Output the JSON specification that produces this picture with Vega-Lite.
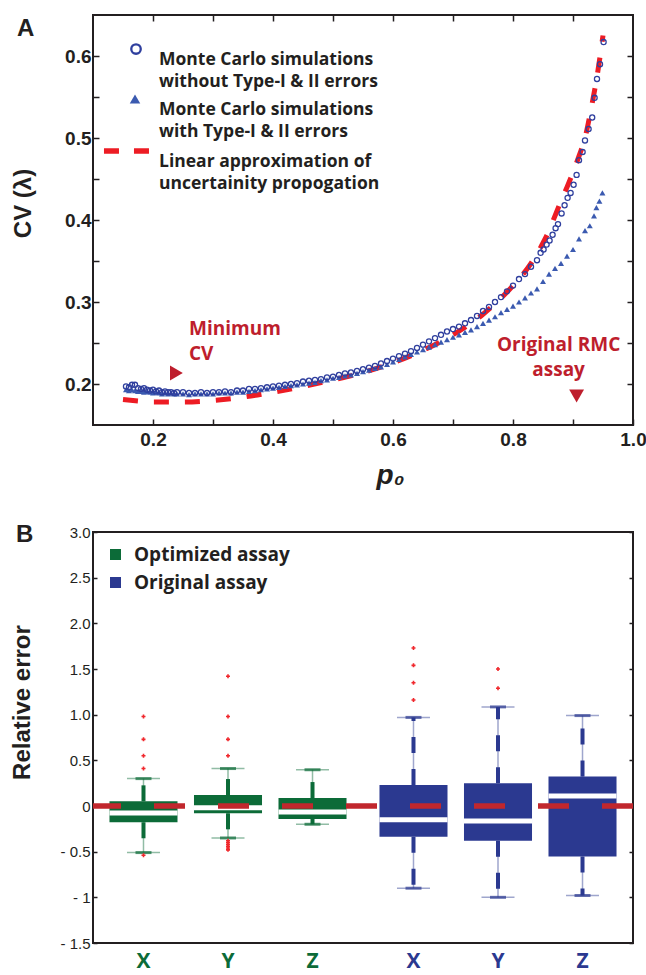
{
  "$schema": "https://vega.github.io/schema/vega-lite/v6.json",
  "padding": {"left": 9, "top": 13, "right": 5, "bottom": 0},
  "spacing": 32,
  "resolve": {"legend": {"color": "independent"}, "scale": {"color": "independent"}},
  "config": {
    "view": {"stroke": "#231f20", "strokeWidth": 2},
    "axis": {"grid": false, "domain": false, "tickColor": "#231f20", "labelColor": "#231f20", "titleColor": "#231f20", "labelFlush": false, "labelOverlap": false, "labelBound": false}
  },
  "datasets": {
    "mc_no": [
      {"p0":0.155,"cv":0.197},{"p0":0.16,"cv":0.196},{"p0":0.165,"cv":0.199},{"p0":0.17,"cv":0.199},{"p0":0.175,"cv":0.195},{"p0":0.18,"cv":0.194},{"p0":0.185,"cv":0.195},{"p0":0.19,"cv":0.193},{"p0":0.195,"cv":0.192},{"p0":0.2,"cv":0.193},
      {"p0":0.205,"cv":0.191},{"p0":0.21,"cv":0.192},{"p0":0.215,"cv":0.19},{"p0":0.22,"cv":0.191},{"p0":0.225,"cv":0.19},{"p0":0.23,"cv":0.19},{"p0":0.235,"cv":0.189},{"p0":0.24,"cv":0.19},{"p0":0.25,"cv":0.19},{"p0":0.26,"cv":0.189},
      {"p0":0.27,"cv":0.189},{"p0":0.28,"cv":0.19},{"p0":0.29,"cv":0.189},{"p0":0.3,"cv":0.19},{"p0":0.31,"cv":0.19},{"p0":0.32,"cv":0.191},{"p0":0.33,"cv":0.19},{"p0":0.34,"cv":0.192},{"p0":0.35,"cv":0.192},{"p0":0.36,"cv":0.194},
      {"p0":0.37,"cv":0.194},{"p0":0.38,"cv":0.195},{"p0":0.39,"cv":0.196},{"p0":0.4,"cv":0.197},{"p0":0.41,"cv":0.198},{"p0":0.42,"cv":0.199},{"p0":0.43,"cv":0.2},{"p0":0.44,"cv":0.201},{"p0":0.45,"cv":0.203},{"p0":0.46,"cv":0.204},
      {"p0":0.47,"cv":0.205},{"p0":0.48,"cv":0.206},{"p0":0.49,"cv":0.208},{"p0":0.5,"cv":0.209},{"p0":0.51,"cv":0.211},{"p0":0.52,"cv":0.213},{"p0":0.53,"cv":0.214},{"p0":0.54,"cv":0.216},{"p0":0.55,"cv":0.218},{"p0":0.56,"cv":0.22},
      {"p0":0.57,"cv":0.222},{"p0":0.58,"cv":0.225},{"p0":0.59,"cv":0.228},{"p0":0.6,"cv":0.231},{"p0":0.61,"cv":0.234},{"p0":0.62,"cv":0.237},{"p0":0.63,"cv":0.24},{"p0":0.64,"cv":0.244},{"p0":0.65,"cv":0.248},{"p0":0.66,"cv":0.252},
      {"p0":0.67,"cv":0.256},{"p0":0.68,"cv":0.26},{"p0":0.69,"cv":0.264},{"p0":0.7,"cv":0.267},{"p0":0.71,"cv":0.27},{"p0":0.72,"cv":0.274},{"p0":0.73,"cv":0.278},{"p0":0.74,"cv":0.283},{"p0":0.75,"cv":0.289},{"p0":0.76,"cv":0.294},
      {"p0":0.77,"cv":0.3},{"p0":0.78,"cv":0.306},{"p0":0.79,"cv":0.313},{"p0":0.8,"cv":0.32},{"p0":0.81,"cv":0.328},{"p0":0.82,"cv":0.334},{"p0":0.83,"cv":0.343},{"p0":0.84,"cv":0.351},{"p0":0.846,"cv":0.36},{"p0":0.851,"cv":0.364},
      {"p0":0.856,"cv":0.37},{"p0":0.861,"cv":0.375},{"p0":0.866,"cv":0.382},{"p0":0.871,"cv":0.39},{"p0":0.875,"cv":0.395},{"p0":0.881,"cv":0.408},{"p0":0.886,"cv":0.418},{"p0":0.891,"cv":0.427},{"p0":0.896,"cv":0.433},{"p0":0.901,"cv":0.443},
      {"p0":0.906,"cv":0.455},{"p0":0.91,"cv":0.473},{"p0":0.916,"cv":0.483},{"p0":0.92,"cv":0.497},{"p0":0.926,"cv":0.511},{"p0":0.932,"cv":0.525},{"p0":0.936,"cv":0.549},{"p0":0.94,"cv":0.572},{"p0":0.945,"cv":0.59},{"p0":0.951,"cv":0.617}
    ],
    "mc_err": [
      {"p0":0.155,"cv":0.193},{"p0":0.16,"cv":0.192},{"p0":0.165,"cv":0.193},{"p0":0.17,"cv":0.192},{"p0":0.175,"cv":0.191},{"p0":0.18,"cv":0.191},{"p0":0.185,"cv":0.19},{"p0":0.19,"cv":0.191},{"p0":0.195,"cv":0.19},{"p0":0.2,"cv":0.189},
      {"p0":0.205,"cv":0.19},{"p0":0.21,"cv":0.189},{"p0":0.215,"cv":0.188},{"p0":0.22,"cv":0.189},{"p0":0.225,"cv":0.188},{"p0":0.23,"cv":0.189},{"p0":0.235,"cv":0.188},{"p0":0.24,"cv":0.188},{"p0":0.25,"cv":0.188},{"p0":0.26,"cv":0.187},
      {"p0":0.27,"cv":0.188},{"p0":0.28,"cv":0.188},{"p0":0.29,"cv":0.188},{"p0":0.3,"cv":0.188},{"p0":0.31,"cv":0.189},{"p0":0.32,"cv":0.189},{"p0":0.33,"cv":0.189},{"p0":0.34,"cv":0.19},{"p0":0.35,"cv":0.19},{"p0":0.36,"cv":0.191},
      {"p0":0.37,"cv":0.192},{"p0":0.38,"cv":0.193},{"p0":0.39,"cv":0.194},{"p0":0.4,"cv":0.195},{"p0":0.41,"cv":0.196},{"p0":0.42,"cv":0.197},{"p0":0.43,"cv":0.198},{"p0":0.44,"cv":0.199},{"p0":0.45,"cv":0.2},{"p0":0.46,"cv":0.201},
      {"p0":0.47,"cv":0.202},{"p0":0.48,"cv":0.204},{"p0":0.49,"cv":0.205},{"p0":0.5,"cv":0.207},{"p0":0.51,"cv":0.208},{"p0":0.52,"cv":0.21},{"p0":0.53,"cv":0.211},{"p0":0.54,"cv":0.213},{"p0":0.55,"cv":0.215},{"p0":0.56,"cv":0.217},
      {"p0":0.57,"cv":0.219},{"p0":0.58,"cv":0.221},{"p0":0.59,"cv":0.224},{"p0":0.6,"cv":0.227},{"p0":0.61,"cv":0.23},{"p0":0.62,"cv":0.233},{"p0":0.63,"cv":0.236},{"p0":0.64,"cv":0.239},{"p0":0.65,"cv":0.242},{"p0":0.66,"cv":0.245},
      {"p0":0.67,"cv":0.248},{"p0":0.68,"cv":0.251},{"p0":0.69,"cv":0.254},{"p0":0.7,"cv":0.257},{"p0":0.71,"cv":0.26},{"p0":0.72,"cv":0.263},{"p0":0.73,"cv":0.266},{"p0":0.74,"cv":0.27},{"p0":0.75,"cv":0.274},{"p0":0.76,"cv":0.278},
      {"p0":0.77,"cv":0.282},{"p0":0.78,"cv":0.287},{"p0":0.79,"cv":0.291},{"p0":0.8,"cv":0.295},{"p0":0.81,"cv":0.3},{"p0":0.82,"cv":0.305},{"p0":0.83,"cv":0.311},{"p0":0.84,"cv":0.316},{"p0":0.85,"cv":0.325},{"p0":0.86,"cv":0.334},
      {"p0":0.87,"cv":0.341},{"p0":0.88,"cv":0.347},{"p0":0.89,"cv":0.356},{"p0":0.9,"cv":0.364},{"p0":0.91,"cv":0.377},{"p0":0.92,"cv":0.387},{"p0":0.928,"cv":0.393},{"p0":0.935,"cv":0.405},{"p0":0.939,"cv":0.415},{"p0":0.944,"cv":0.423},{"p0":0.949,"cv":0.433}
    ],
    "linear": [
      {"p0":0.15,"cv":0.181},{"p0":0.18,"cv":0.179},{"p0":0.2,"cv":0.178},{"p0":0.25,"cv":0.178},{"p0":0.3,"cv":0.18},{"p0":0.35,"cv":0.184},{"p0":0.4,"cv":0.19},{"p0":0.45,"cv":0.197},{"p0":0.5,"cv":0.205},{"p0":0.55,"cv":0.214},
      {"p0":0.6,"cv":0.226},{"p0":0.65,"cv":0.241},{"p0":0.7,"cv":0.26},{"p0":0.75,"cv":0.285},{"p0":0.8,"cv":0.32},{"p0":0.83,"cv":0.347},{"p0":0.85,"cv":0.372},{"p0":0.86,"cv":0.387},{"p0":0.87,"cv":0.405},{"p0":0.88,"cv":0.423},
      {"p0":0.89,"cv":0.44},{"p0":0.9,"cv":0.458},{"p0":0.91,"cv":0.478},{"p0":0.92,"cv":0.5},{"p0":0.93,"cv":0.535},{"p0":0.94,"cv":0.575},{"p0":0.95,"cv":0.625}
    ],
    "boxes": [
      {"assay":"Optimized assay","comp":"X","lo":-0.51,"q1":-0.178,"med":-0.077,"q3":0.051,"hi":0.30},
      {"assay":"Optimized assay","comp":"Y","lo":-0.35,"q1":-0.08,"med":-0.02,"q3":0.12,"hi":0.41},
      {"assay":"Optimized assay","comp":"Z","lo":-0.20,"q1":-0.142,"med":-0.065,"q3":0.087,"hi":0.397},
      {"assay":"Original assay","comp":"X","lo":-0.90,"q1":-0.336,"med":-0.15,"q3":0.23,"hi":0.97},
      {"assay":"Original assay","comp":"Y","lo":-1.0,"q1":-0.38,"med":-0.165,"q3":0.25,"hi":1.085},
      {"assay":"Original assay","comp":"Z","lo":-0.98,"q1":-0.554,"med":0.11,"q3":0.322,"hi":0.99}
    ],
    "outliers": [
      {"assay":"Optimized assay","comp":"X","v":0.98},{"assay":"Optimized assay","comp":"X","v":0.73},{"assay":"Optimized assay","comp":"X","v":0.55},{"assay":"Optimized assay","comp":"X","v":0.41},{"assay":"Optimized assay","comp":"X","v":-0.54},
      {"assay":"Optimized assay","comp":"Y","v":1.42},{"assay":"Optimized assay","comp":"Y","v":0.98},{"assay":"Optimized assay","comp":"Y","v":0.73},{"assay":"Optimized assay","comp":"Y","v":0.55},
      {"assay":"Optimized assay","comp":"Y","v":-0.38},{"assay":"Optimized assay","comp":"Y","v":-0.40},{"assay":"Optimized assay","comp":"Y","v":-0.42},{"assay":"Optimized assay","comp":"Y","v":-0.44},{"assay":"Optimized assay","comp":"Y","v":-0.46},{"assay":"Optimized assay","comp":"Y","v":-0.48},
      {"assay":"Original assay","comp":"X","v":1.73},{"assay":"Original assay","comp":"X","v":1.54},{"assay":"Original assay","comp":"X","v":1.35},{"assay":"Original assay","comp":"X","v":1.16},
      {"assay":"Original assay","comp":"Y","v":1.50},{"assay":"Original assay","comp":"Y","v":1.29}
    ]
  },
  "vconcat": [
    {
      "width": 540,
      "height": 410,
      "resolve": {"axis": {"x": "independent", "y": "independent"}},
      "layer": [
        {
          "data": {"name": "linear"},
          "mark": {"type": "line", "color": "#ed1c24", "strokeWidth": 5, "strokeDash": [15, 16], "interpolate": "monotone"},
          "encoding": {
            "x": {"field": "p0", "type": "quantitative", "scale": {"domain": [0.1, 1.0], "nice": false, "zero": false},
              "axis": {"orient": "bottom", "values": [0.2,0.3,0.4,0.5,0.6,0.7,0.8,0.9,1.0], "labelExpr": "round(datum.value*10)%2==0 ? format(datum.value,'.1f') : ''", "tickSize": -6, "tickWidth": 1.5, "labelPadding": 11, "labelFont": "Liberation Sans", "labelFontSize": 19, "labelFontWeight": "bold", "title": "p₀", "titleFont": "Liberation Sans", "titleFontSize": 28, "titleFontWeight": "bold", "titleFontStyle": "italic", "titleX": 297, "titleY": 58, "titleBaseline": "alphabetic"}},
            "y": {"field": "cv", "type": "quantitative", "scale": {"domain": [0.15, 0.65], "nice": false, "zero": false},
              "axis": {"orient": "left", "values": [0.2,0.25,0.3,0.35,0.4,0.45,0.5,0.55,0.6], "labelExpr": "round(datum.value*100)%10==0 ? format(datum.value,'.1f') : ''", "tickSize": -6, "tickWidth": 1.5, "labelPadding": 8, "labelFont": "Liberation Sans", "labelFontSize": 19, "labelFontWeight": "bold", "title": "CV (λ)", "titleFont": "Liberation Sans", "titleFontSize": 24, "titleFontWeight": "bold", "titleX": -70, "titleY": 188, "titleBaseline": "middle"}}
          }
        },
        {
          "data": {"name": "mc_err"},
          "mark": {"type": "point", "shape": "triangle-up", "filled": true, "color": "#3b5ab0", "size": 36, "opacity": 1},
          "encoding": {
            "x": {"field": "p0", "type": "quantitative", "axis": {"orient": "top", "values": [0.2,0.3,0.4,0.5,0.6,0.7,0.8,0.9], "labels": false, "title": null, "tickSize": -6, "tickWidth": 1.5}},
            "y": {"field": "cv", "type": "quantitative", "axis": {"orient": "right", "values": [0.2,0.25,0.3,0.35,0.4,0.45,0.5,0.55,0.6], "labels": false, "title": null, "tickSize": -6, "tickWidth": 1.5}}
          }
        },
        {
          "data": {"name": "mc_no"},
          "mark": {"type": "point", "filled": false, "color": "#2f3f9e", "size": 26, "strokeWidth": 1.3, "opacity": 1},
          "encoding": {
            "x": {"field": "p0", "type": "quantitative", "axis": null},
            "y": {"field": "cv", "type": "quantitative", "axis": null}
          }
        },
        {
          "data": {"values": [{}]},
          "mark": {"type": "text", "text": "A", "align": "left", "baseline": "alphabetic", "font": "Liberation Sans", "fontSize": 24, "fontWeight": "bold", "color": "#231f20"},
          "encoding": {"x": {"datum": -0.0267, "type": "quantitative", "axis": null}, "y": {"datum": 0.6244, "type": "quantitative", "axis": null}}
        },
        {
          "data": {"values": [{}]},
          "mark": {"type": "point", "filled": false, "color": "#2f3f9e", "size": 90, "strokeWidth": 2.3, "opacity": 1},
          "encoding": {"x": {"datum": 0.1717, "type": "quantitative", "axis": null}, "y": {"datum": 0.6085, "type": "quantitative", "axis": null}}
        },
        {
          "data": {"values": [{}]},
          "mark": {"type": "point", "shape": "triangle-up", "filled": true, "color": "#3b5ab0", "size": 110, "opacity": 1},
          "encoding": {"x": {"datum": 0.170, "type": "quantitative", "axis": null}, "y": {"datum": 0.5476, "type": "quantitative", "axis": null}}
        },
        {
          "data": {"values": [{}]},
          "mark": {"type": "rule", "color": "#ed1c24", "strokeWidth": 5.5, "strokeDash": [15, 15]},
          "encoding": {"x": {"datum": 0.1183, "type": "quantitative", "axis": null}, "x2": {"datum": 0.195}, "y": {"datum": 0.4841, "type": "quantitative", "axis": null}}
        },
        {
          "data": {"values": [{}]},
          "mark": {"type": "text", "text": "Monte Carlo simulations\nwithout Type-I & II errors", "lineBreak": "\n", "lineHeight": 22, "align": "left", "baseline": "middle", "font": "Open Sans", "fontSize": 17.5, "fontWeight": "bold", "color": "#231f20"},
          "encoding": {"x": {"datum": 0.21, "type": "quantitative", "axis": null}, "y": {"datum": 0.5951, "type": "quantitative", "axis": null}}
        },
        {
          "data": {"values": [{}]},
          "mark": {"type": "text", "text": "Monte Carlo simulations\nwith Type-I & II errors", "lineBreak": "\n", "lineHeight": 22, "align": "left", "baseline": "middle", "font": "Open Sans", "fontSize": 17.5, "fontWeight": "bold", "color": "#231f20"},
          "encoding": {"x": {"datum": 0.21, "type": "quantitative", "axis": null}, "y": {"datum": 0.5341, "type": "quantitative", "axis": null}}
        },
        {
          "data": {"values": [{}]},
          "mark": {"type": "text", "text": "Linear approximation of\nuncertainity propogation", "lineBreak": "\n", "lineHeight": 22, "align": "left", "baseline": "middle", "font": "Open Sans", "fontSize": 17.5, "fontWeight": "bold", "color": "#231f20"},
          "encoding": {"x": {"datum": 0.21, "type": "quantitative", "axis": null}, "y": {"datum": 0.4707, "type": "quantitative", "axis": null}}
        },
        {
          "data": {"values": [{}]},
          "mark": {"type": "text", "text": "Minimum\nCV", "lineBreak": "\n", "lineHeight": 25, "align": "left", "baseline": "alphabetic", "font": "Open Sans", "fontSize": 19, "fontWeight": "bold", "color": "#be1e2d"},
          "encoding": {"x": {"datum": 0.26, "type": "quantitative", "axis": null}, "y": {"datum": 0.2598, "type": "quantitative", "axis": null}}
        },
        {
          "data": {"values": [{}]},
          "mark": {"type": "text", "text": "Original RMC\nassay", "lineBreak": "\n", "lineHeight": 25, "align": "center", "baseline": "alphabetic", "font": "Open Sans", "fontSize": 19, "fontWeight": "bold", "color": "#be1e2d"},
          "encoding": {"x": {"datum": 0.876, "type": "quantitative", "axis": null}, "y": {"datum": 0.2402, "type": "quantitative", "axis": null}}
        },
        {
          "data": {"values": [{}]},
          "mark": {"type": "point", "shape": "triangle-right", "filled": true, "color": "#be1e2d", "size": 220, "opacity": 1},
          "encoding": {"x": {"datum": 0.239, "type": "quantitative", "axis": null}, "y": {"datum": 0.2134, "type": "quantitative", "axis": null}}
        },
        {
          "data": {"values": [{}]},
          "mark": {"type": "point", "shape": "triangle-down", "filled": true, "color": "#be1e2d", "size": 220, "opacity": 1},
          "encoding": {"x": {"datum": 0.906, "type": "quantitative", "axis": null}, "y": {"datum": 0.1854, "type": "quantitative", "axis": null}}
        }
      ]
    },
    {
      "width": 540,
      "height": 411,
      "resolve": {"scale": {"x": "independent", "xOffset": "independent"}, "axis": {"x": "independent", "y": "independent"}},
      "layer": [
        {
          "data": {"name": "boxes"},
          "mark": {"type": "bar", "opacity": 1},
          "encoding": {
            "x": {"field": "assay", "type": "nominal", "axis": null, "scale": {"type": "band", "domain": ["Optimized assay", "Original assay"], "paddingInner": 0, "paddingOuter": 0}},
            "xOffset": {"field": "comp", "type": "nominal", "scale": {"type": "band", "domain": ["X", "Y", "Z"], "paddingInner": 0.195, "paddingOuter": 0.195}},
            "y": {"field": "q1", "type": "quantitative", "scale": {"domain": [-1.5, 3], "nice": false, "zero": false},
              "axis": {"orient": "left", "values": [-1.5,-1,-0.5,0,0.5,1,1.5,2,2.5,3], "labelExpr": "datum.value < 0 ? '- ' + format(-datum.value, '') : (datum.value == 0 ? '0' : format(datum.value, '.1f'))", "tickSize": -4, "tickWidth": 1.5, "labelPadding": 7, "labelFont": "Liberation Sans", "labelFontSize": 15, "title": "Relative error", "titleFont": "Liberation Sans", "titleFontSize": 24, "titleFontWeight": "bold", "titleX": -70.5, "titleY": 170, "titleBaseline": "middle"}},
            "y2": {"field": "q3"},
            "color": {"field": "assay", "type": "nominal", "scale": {"domain": ["Optimized assay", "Original assay"], "range": ["#0c6b38", "#2b3990"]},
              "legend": {"orient": "top-left", "offset": 13, "title": null, "symbolType": "square", "symbolSize": 121, "symbolOpacity": 1, "symbolStrokeWidth": 0, "labelFont": "Open Sans", "labelFontWeight": "bold", "labelFontSize": 19, "labelColor": "#231f20", "rowPadding": 8, "labelOffset": 9, "padding": 0}}
          }
        },
        {
          "data": {"name": "boxes"},
          "mark": {"type": "rule", "strokeWidth": 1.5, "opacity": 0.45},
          "encoding": {
            "x": {"field": "assay", "type": "nominal", "axis": null, "scale": {"type": "band", "domain": ["Optimized assay", "Original assay"], "paddingInner": 0, "paddingOuter": 0}},
            "xOffset": {"field": "comp", "type": "nominal", "scale": {"type": "band", "domain": ["X", "Y", "Z"], "paddingInner": 0.195, "paddingOuter": 0.195}},
            "y": {"field": "q3", "type": "quantitative", "axis": null},
            "y2": {"field": "hi"},
            "color": {"field": "assay", "type": "nominal", "legend": null}
          }
        },
        {
          "data": {"name": "boxes"},
          "mark": {"type": "rule", "strokeWidth": 1.5, "opacity": 0.45},
          "encoding": {
            "x": {"field": "assay", "type": "nominal", "axis": null, "scale": {"type": "band", "domain": ["Optimized assay", "Original assay"], "paddingInner": 0, "paddingOuter": 0}},
            "xOffset": {"field": "comp", "type": "nominal", "scale": {"type": "band", "domain": ["X", "Y", "Z"], "paddingInner": 0.195, "paddingOuter": 0.195}},
            "y": {"field": "q1", "type": "quantitative", "axis": null},
            "y2": {"field": "lo"},
            "color": {"field": "assay", "type": "nominal", "legend": null}
          }
        },
        {
          "data": {"name": "boxes"},
          "mark": {"type": "rule", "strokeWidth": 4, "strokeDash": [16, 16]},
          "encoding": {
            "x": {"field": "assay", "type": "nominal", "axis": null, "scale": {"type": "band", "domain": ["Optimized assay", "Original assay"], "paddingInner": 0, "paddingOuter": 0}},
            "xOffset": {"field": "comp", "type": "nominal", "scale": {"type": "band", "domain": ["X", "Y", "Z"], "paddingInner": 0.195, "paddingOuter": 0.195}},
            "y": {"field": "q3", "type": "quantitative", "axis": null},
            "y2": {"field": "hi"},
            "color": {"field": "assay", "type": "nominal", "legend": null}
          }
        },
        {
          "data": {"name": "boxes"},
          "mark": {"type": "rule", "strokeWidth": 4, "strokeDash": [16, 16]},
          "encoding": {
            "x": {"field": "assay", "type": "nominal", "axis": null, "scale": {"type": "band", "domain": ["Optimized assay", "Original assay"], "paddingInner": 0, "paddingOuter": 0}},
            "xOffset": {"field": "comp", "type": "nominal", "scale": {"type": "band", "domain": ["X", "Y", "Z"], "paddingInner": 0.195, "paddingOuter": 0.195}},
            "y": {"field": "q1", "type": "quantitative", "axis": null},
            "y2": {"field": "lo"},
            "color": {"field": "assay", "type": "nominal", "legend": null}
          }
        },
        {
          "data": {"name": "boxes"},
          "mark": {"type": "tick", "orient": "horizontal", "size": 33, "thickness": 1.5, "opacity": 0.45},
          "encoding": {
            "x": {"field": "assay", "type": "nominal", "axis": null, "scale": {"type": "band", "domain": ["Optimized assay", "Original assay"], "paddingInner": 0, "paddingOuter": 0}},
            "xOffset": {"field": "comp", "type": "nominal", "scale": {"type": "band", "domain": ["X", "Y", "Z"], "paddingInner": 0.195, "paddingOuter": 0.195}},
            "y": {"field": "hi", "type": "quantitative", "axis": null},
            "color": {"field": "assay", "type": "nominal", "legend": null}
          }
        },
        {
          "data": {"name": "boxes"},
          "mark": {"type": "tick", "orient": "horizontal", "size": 33, "thickness": 1.5, "opacity": 0.45},
          "encoding": {
            "x": {"field": "assay", "type": "nominal", "axis": null, "scale": {"type": "band", "domain": ["Optimized assay", "Original assay"], "paddingInner": 0, "paddingOuter": 0}},
            "xOffset": {"field": "comp", "type": "nominal", "scale": {"type": "band", "domain": ["X", "Y", "Z"], "paddingInner": 0.195, "paddingOuter": 0.195}},
            "y": {"field": "lo", "type": "quantitative", "axis": null},
            "color": {"field": "assay", "type": "nominal", "legend": null}
          }
        },
        {
          "data": {"name": "boxes"},
          "mark": {"type": "tick", "orient": "horizontal", "size": 16, "thickness": 3, "xOffset": -8},
          "encoding": {
            "x": {"field": "assay", "type": "nominal", "axis": null, "scale": {"type": "band", "domain": ["Optimized assay", "Original assay"], "paddingInner": 0, "paddingOuter": 0}},
            "xOffset": {"field": "comp", "type": "nominal", "scale": {"type": "band", "domain": ["X", "Y", "Z"], "paddingInner": 0.195, "paddingOuter": 0.195}},
            "y": {"field": "hi", "type": "quantitative", "axis": null},
            "color": {"field": "assay", "type": "nominal", "legend": null}
          }
        },
        {
          "data": {"name": "boxes"},
          "mark": {"type": "tick", "orient": "horizontal", "size": 16, "thickness": 3, "xOffset": -8},
          "encoding": {
            "x": {"field": "assay", "type": "nominal", "axis": null, "scale": {"type": "band", "domain": ["Optimized assay", "Original assay"], "paddingInner": 0, "paddingOuter": 0}},
            "xOffset": {"field": "comp", "type": "nominal", "scale": {"type": "band", "domain": ["X", "Y", "Z"], "paddingInner": 0.195, "paddingOuter": 0.195}},
            "y": {"field": "lo", "type": "quantitative", "axis": null},
            "color": {"field": "assay", "type": "nominal", "legend": null}
          }
        },
        {
          "data": {"name": "boxes"},
          "mark": {"type": "tick", "orient": "horizontal", "size": 68, "thickness": 5, "color": "white", "opacity": 1},
          "encoding": {
            "x": {"field": "assay", "type": "nominal", "axis": null, "scale": {"type": "band", "domain": ["Optimized assay", "Original assay"], "paddingInner": 0, "paddingOuter": 0}},
            "xOffset": {"field": "comp", "type": "nominal", "scale": {"type": "band", "domain": ["X", "Y", "Z"], "paddingInner": 0.195, "paddingOuter": 0.195}},
            "y": {"field": "med", "type": "quantitative", "axis": null}
          }
        },
        {
          "data": {"name": "outliers"},
          "mark": {"type": "point", "shape": "cross", "filled": true, "color": "#f0282d", "size": 16, "opacity": 1},
          "encoding": {
            "x": {"field": "assay", "type": "nominal", "axis": null, "scale": {"type": "band", "domain": ["Optimized assay", "Original assay"], "paddingInner": 0, "paddingOuter": 0}},
            "xOffset": {"field": "comp", "type": "nominal", "scale": {"type": "band", "domain": ["X", "Y", "Z"], "paddingInner": 0.195, "paddingOuter": 0.195}},
            "y": {"field": "v", "type": "quantitative", "axis": null}
          }
        },
        {
          "data": {"values": [{}]},
          "mark": {"type": "rule", "color": "#c1272d", "strokeWidth": 5.5, "strokeDash": [31, 33]},
          "encoding": {"y": {"datum": 0, "type": "quantitative", "axis": null}}
        },
        {
          "data": {"name": "boxes"},
          "mark": {"type": "text", "font": "Open Sans", "fontSize": 21, "fontWeight": "bold", "baseline": "alphabetic", "align": "center", "dy": 25},
          "encoding": {
            "x": {"field": "assay", "type": "nominal", "axis": null, "scale": {"type": "band", "domain": ["Optimized assay", "Original assay"], "paddingInner": 0, "paddingOuter": 0}},
            "xOffset": {"field": "comp", "type": "nominal", "scale": {"type": "band", "domain": ["X", "Y", "Z"], "paddingInner": 0.195, "paddingOuter": 0.195}},
            "y": {"datum": -1.5, "type": "quantitative", "axis": null},
            "text": {"field": "comp"},
            "color": {"field": "assay", "type": "nominal", "legend": null}
          }
        },
        {
          "data": {"values": [{}]},
          "mark": {"type": "text", "text": "B", "align": "left", "baseline": "alphabetic", "font": "Liberation Sans", "fontSize": 24, "fontWeight": "bold", "color": "#231f20"},
          "encoding": {
            "x": {"datum": -0.1426, "type": "quantitative", "axis": null, "scale": {"domain": [0, 1], "nice": false, "zero": false}},
            "y": {"datum": 2.8905, "type": "quantitative", "axis": {"orient": "right", "values": [-1.5,-1,-0.5,0,0.5,1,1.5,2,2.5,3], "labels": false, "title": null, "tickSize": -4, "tickWidth": 1.5}}
          }
        }
      ]
    }
  ]
}
